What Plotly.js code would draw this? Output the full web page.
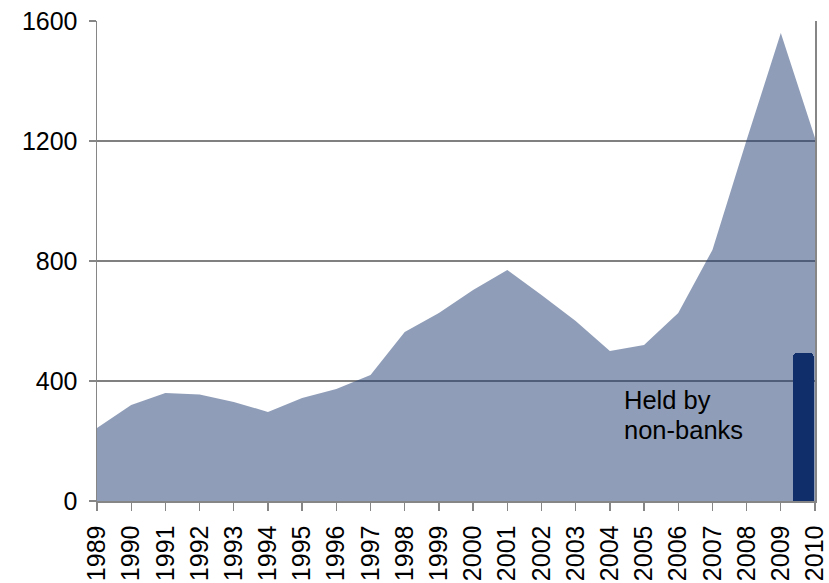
<!DOCTYPE html>
<html>
<head>
<meta charset="utf-8">
<script src="https://cdn.plot.ly/plotly-3.0.1.min.js"></script>
<style>html,body{margin:0;padding:0;background:#fff;}#chart{width:829px;height:583px;}</style>
</head>
<body>
<div id="chart"></div>
<script>
const years = [1989,1990,1991,1992,1993,1994,1995,1996,1997,1998,1999,2000,2001,2002,2003,2004,2005,2006,2007,2008,2009,2010];
const totalValues = [243,320,360,355,330,297,343,373,420,563,627,703,770,687,600,500,520,627,837,1203,1560,1210];
const nonBankX = [2009.66];
const nonBankValues = [493];
const yTicks = [0,400,800,1200,1600];
const noteLines = ["Held by", "non-banks"];
const noteY = [338, 238];

const FONT = "Liberation Sans, Arial, sans-serif";

const traces = [
  {
    type: "scatter",
    mode: "lines",
    x: years,
    y: totalValues,
    fill: "tozeroy",
    fillcolor: "rgba(31,59,113,0.5)",
    line: {width: 0, color: "rgba(0,0,0,0)"},
    hoverinfo: "x+y",
    showlegend: false
  },
  {
    type: "bar",
    x: nonBankX,
    y: nonBankValues,
    width: 0.6,
    marker: {color: "#002060", cornerradius: 4, line: {width: 0}},
    showlegend: false
  }
];

const layout = {
  width: 829,
  height: 583,
  margin: {l: 97, r: 14, t: 21, b: 82, pad: 0},
  paper_bgcolor: "#ffffff",
  plot_bgcolor: "#ffffff",
  font: {family: FONT, size: 25, color: "#000000"},
  showlegend: false,
  xaxis: {
    range: [1989, 2010],
    tickmode: "array",
    tickvals: years,
    ticktext: years.map(String),
    tickangle: -90,
    ticks: "outside",
    ticklen: 8,
    tickwidth: 1.3,
    tickcolor: "#868686",
    ticklabelstandoff: 5,
    ticklabeloverflow: "allow",
    showline: true,
    linecolor: "#868686",
    linewidth: 1.5,
    showgrid: false,
    zeroline: false,
    tickfont: {family: FONT, size: 25, color: "#000"}
  },
  yaxis: {
    range: [0, 1600],
    tickmode: "array",
    tickvals: yTicks,
    ticks: "outside",
    ticklen: 7,
    tickwidth: 1.3,
    tickcolor: "#868686",
    ticklabelstandoff: 6,
    ticklabeloverflow: "allow",
    showline: true,
    mirror: true,
    linecolor: "#868686",
    linewidth: 1.5,
    showgrid: true,
    gridcolor: "#808080",
    gridwidth: 1.3,
    zeroline: false,
    tickfont: {family: FONT, size: 25, color: "#000"}
  },
  annotations: noteLines.map((t, i) => ({
    xref: "x", yref: "y",
    x: 2004.36, y: noteY[i],
    xanchor: "left", yanchor: "middle",
    align: "left",
    text: t,
    showarrow: false,
    font: {family: FONT, size: 25.5, color: "#000"}
  })),
  bargap: 0
};

Plotly.newPlot("chart", traces, layout, {displayModeBar: false, staticPlot: true});
</script>
</body>
</html>
